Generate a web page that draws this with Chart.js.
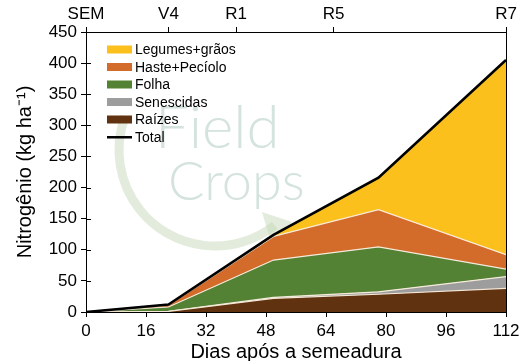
<!DOCTYPE html>
<html><head><meta charset="utf-8">
<script src="https://cdn.jsdelivr.net/npm/chart.js@4"></script>
<style>html,body{margin:0;padding:0;background:#fff}#wrap{width:528px;height:361px}</style>
</head><body><div id="wrap"><canvas id="c" width="528" height="361"></canvas></div>
<script>
const days = [0, 22, 50, 78, 112];
const raizes = [0, 1, 22, 28.5, 38];
const senescidas = [0, 0, 1.5, 4, 19];
const folha = [0, 7, 60, 72, 12];
const haste = [0, 3, 38, 60, 23];
const legumes = [0, 0, 2, 52, 313];
const total = [0, 12, 124, 216, 405];
const stageDays = [0, 22, 40, 66, 112];
const stageLabels = ['SEM', 'V4', 'R1', 'R5', 'R7'];
const xTicks = [0, 16, 32, 48, 64, 80, 96, 112];
const legendOrder = ['Legumes+grãos', 'Haste+Pecíolo', 'Folha', 'Senescidas', 'Raízes', 'Total'];

const pts = arr => days.map((d, i) => ({x: d, y: arr[i]}));
const edge = 'rgba(250,238,222,0.95)';
function area(label, arr, color, fill) {
  return {label, data: pts(arr), backgroundColor: color, borderColor: edge, borderWidth: 1.2,
    fill, stack: 'parts', pointRadius: 0, tension: 0, legendColor: color};
}

const watermark = {
  id: 'watermark',
  beforeDatasetsDraw(chart) {
    const ctx = chart.ctx; ctx.save();
    ctx.strokeStyle = 'rgba(200,218,185,0.5)'; ctx.lineWidth = 9;
    ctx.beginPath(); ctx.arc(215, 150, 96, 0.9, 3.5); ctx.stroke();
    ctx.fillStyle = 'rgba(200,218,185,0.5)';
    ctx.beginPath(); ctx.moveTo(262, 212); ctx.lineTo(292, 222); ctx.lineTo(272, 246); ctx.closePath(); ctx.fill();
    ctx.fillStyle = 'rgba(160,192,180,0.45)';
    ctx.textBaseline = 'alphabetic';
    ctx.font = '300 60px Lato, "Open Sans", sans-serif';
    ctx.fillText('Field', 155, 148);
    ctx.font = '300 54px Lato, "Open Sans", sans-serif';
    ctx.fillText('Crops', 168, 200);
    ctx.restore();
  }
};

const frame = {
  id: 'frame',
  afterDraw(chart) {
    const ctx = chart.ctx, a = chart.chartArea, ys = chart.scales.y;
    ctx.save(); ctx.strokeStyle = '#000'; ctx.lineWidth = 1;
    ctx.beginPath(); ctx.moveTo(Math.round(a.right) + 0.5, a.top); ctx.lineTo(Math.round(a.right) + 0.5, a.bottom); ctx.stroke();
    ys.ticks.forEach(t => { const y = Math.round(ys.getPixelForValue(t.value)) + 0.5;
      ctx.beginPath(); ctx.moveTo(a.left, y); ctx.lineTo(a.left + 5, y); ctx.stroke(); });
    const byLabel = {}; chart.data.datasets.forEach(d => byLabel[d.label] = d);
    ctx.font = '14px "Liberation Sans", Arial, sans-serif'; ctx.textBaseline = 'middle'; ctx.fillStyle = '#000';
    legendOrder.forEach((lab, i) => {
      const y = 49.5 + i * 17.5, d = byLabel[lab];
      if (lab === 'Total') { ctx.fillStyle = '#000'; ctx.fillRect(107, y - 1, 25, 2.5); }
      else { ctx.fillStyle = d.legendColor; ctx.fillRect(107, y - 4, 25, 8); }
      ctx.fillStyle = '#000'; ctx.fillText(lab, 135, y + 1);
    });
    ctx.restore();
  }
};

const tickFont = {family: '"Liberation Sans", Arial, sans-serif', size: 17};
new Chart(document.getElementById('c'), {
  type: 'line',
  data: {datasets: [
    {label: 'Total', data: pts(total), borderColor: '#000', borderWidth: 2.6, fill: false, stack: 'tot', pointRadius: 0, tension: 0},
    area('Raízes', raizes, '#61320f', 'origin'),
    area('Senescidas', senescidas, '#9d9d9d', '-1'),
    area('Folha', folha, '#548235', '-1'),
    area('Haste+Pecíolo', haste, '#d36b2a', '-1'),
    area('Legumes+grãos', legumes, '#fcc01d', '-1')
  ]},
  options: {
    responsive: false, animation: false, devicePixelRatio: 1,
    layout: {padding: {left: 0, right: 22, top: 0, bottom: 0}},
    plugins: {legend: {display: false}, tooltip: {enabled: false}},
    scales: {
      x: {type: 'linear', position: 'bottom', min: 0, max: 112,
        afterBuildTicks: s => { s.ticks = xTicks.map(v => ({value: v})); },
        afterFit: s => { s.height = 49; },
        ticks: {font: tickFont, color: '#000', padding: 4, maxRotation: 0, autoSkip: false},
        grid: {drawOnChartArea: false, drawTicks: true, tickLength: 5, color: '#000'},
        border: {color: '#000', width: 1},
        title: {display: true, text: 'Dias após a semeadura', color: '#000', font: {family: '"Liberation Sans", Arial, sans-serif', size: 20, lineHeight: 1}, padding: {top: 0, bottom: -1}}},
      x2: {type: 'linear', position: 'top', min: 0, max: 112,
        afterBuildTicks: s => { s.ticks = stageDays.map(v => ({value: v})); },
        afterFit: s => { s.height = 32; },
        ticks: {font: tickFont, color: '#000', padding: 2, maxRotation: 0, autoSkip: false,
          callback: v => stageLabels[stageDays.indexOf(v)]},
        grid: {drawOnChartArea: false, drawTicks: true, tickLength: 5, color: '#000'},
        border: {color: '#000', width: 1}},
      y: {stacked: true, min: 0, max: 450,
        afterFit: s => { s.width = 86; },
        ticks: {stepSize: 50, font: tickFont, color: '#000', padding: 4},
        grid: {drawOnChartArea: false, drawTicks: true, tickLength: 5, color: '#000'},
        border: {color: '#000', width: 1},
        title: {display: true, text: 'Nitrogênio (kg ha⁻¹)', color: '#000', font: {family: '"Liberation Sans", Arial, sans-serif', size: 20, lineHeight: 1}, padding: {top: 15, bottom: 0}}}
    }
  },
  plugins: [watermark, frame]
});
</script></body></html>
